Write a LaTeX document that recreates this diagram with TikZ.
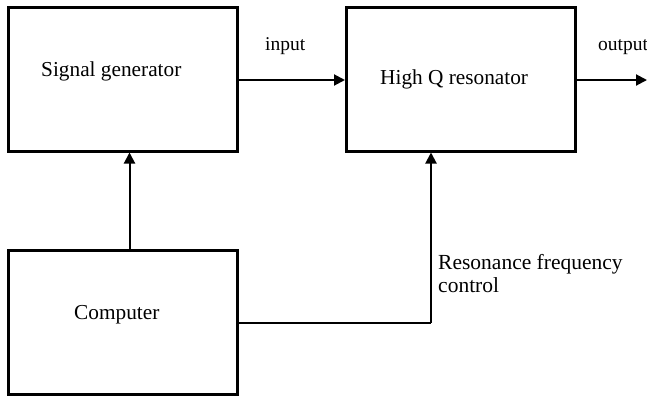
\documentclass[tikz,border=0pt]{standalone}
\usepackage{fontspec}
\setmainfont{Liberation Serif}
\usetikzlibrary{arrows.meta}
\begin{document}
\begin{tikzpicture}[x=1pt,y=-1pt,
  block/.style={draw=black,line width=3pt,rectangle,inner sep=0pt,
    minimum width=229pt,minimum height=144pt},
  blocktext/.style={anchor=base west,inner sep=0pt,font=\fontsize{21.3}{24}\selectfont},
  labeltext/.style={anchor=base west,inner sep=0pt,font=\fontsize{19.5}{23.5}\selectfont},
  notetext/.style={anchor=base west,inner sep=0pt,font=\fontsize{21.5}{24}\selectfont},
  conn/.style={draw=black,line width=2pt},
  arrow/.style={conn,-{Triangle[length=11pt,width=11pt]}}]
  \useasboundingbox (0,0) rectangle (647,400);
  % blocks
  \node[block] (sg)   at (123,79) {};
  \node[block] (res)  at (461,79) {};
  \node[block] (comp) at (123,322.75) {};
  % block titles
  \node[blocktext] (sgtext)   at (41,76)  {Signal generator};
  \node[blocktext] (restext)  at (380,84) {High Q resonator};
  \node[blocktext] (comptext) at (74,319) {Computer};
  % signal labels
  \node[labeltext] (inlabel)  at (265,50) {input};
  \node[labeltext] (outlabel) at (598,50) {output};
  \node[notetext] (rfc1) at (438,269)   {Resonance frequency};
  \node[notetext] (rfc2) at (438,292.7) {control};
  % connectors
  \coordinate (outend) at (647,80);
  \coordinate (bend) at (431,322.75);
  \draw[arrow] (sg.east |- 0,80) -- (res.west |- 0,80);
  \draw[arrow] (res.east |- 0,80) -- (outend);
  \draw[arrow] (comp.north -| 129.5,0) -- (sg.south -| 129.5,0);
  \draw[conn] (comp.east) -- (bend);
  \draw[arrow] (bend) -- (res.south -| bend);
\end{tikzpicture}
\end{document}
